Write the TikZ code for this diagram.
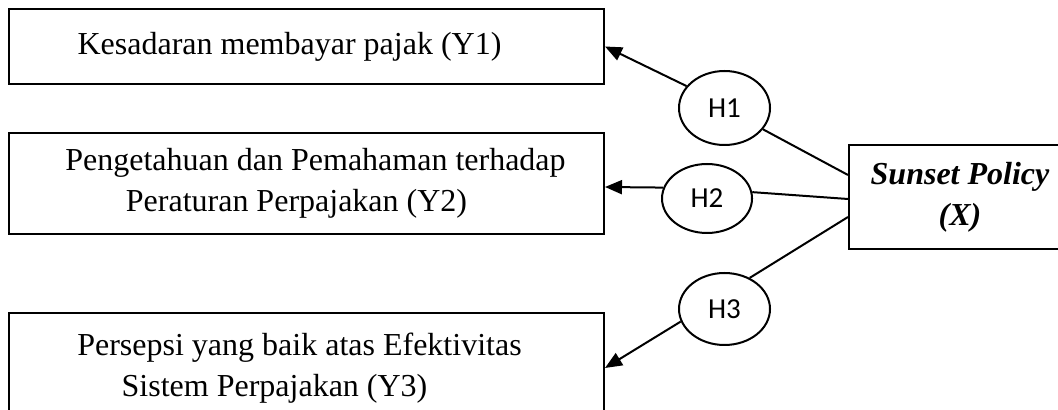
\documentclass[tikz,border=0pt]{standalone}
\usepackage{fontspec}
\setmainfont{Liberation Serif}
\newfontfamily\calibri{Carlito}
\usetikzlibrary{shapes.geometric,arrows.meta}

\tikzset{
  varbox/.style={draw,line width=1pt,minimum width=297.5pt,inner sep=0pt,
    align=center,font=\fontsize{16}{20.5}\selectfont},
  hypo/.style={draw,ellipse,line width=1pt,inner sep=0pt,minimum width=45.5pt,
    font=\calibri\fontsize{14.5}{16}\selectfont},
  link/.style={line width=1pt},
  effect/.style={line width=1pt,-{Triangle[length=8.5pt,width=7pt]}}
}

\begin{document}
\begin{tikzpicture}[x=0.5pt,y=-0.5pt]
  \useasboundingbox (0,0) rectangle (1058,410);
  % variabel Y
  \node[varbox,minimum height=37.5pt] (Y1) at (306.5,46.5) {Kesadaran membayar pajak (Y1)\hspace*{17pt}};
  \node[varbox,minimum height=50.5pt] (Y2) at (306.5,183.5) {\hspace*{9pt}Pengetahuan dan Pemahaman terhadap\\Peraturan Perpajakan (Y2)\hspace*{10pt}};
  \node[varbox,minimum height=55pt] (Y3) at (306.5,368) {Persepsi yang baik atas Efektivitas\hspace*{7pt}\\Sistem Perpajakan (Y3)\hspace*{32pt}};
  % variabel X
  \node[varbox,minimum width=111pt,minimum height=52pt,
    font=\fontsize{16}{20.5}\selectfont\bfseries\itshape] (X) at (960,197) {Sunset Policy\\(X)};
  % hipotesis
  \node[hypo,minimum height=37pt] (H1) at (724.5,108) {H1};
  \node[hypo,minimum width=45pt,minimum height=34.5pt] (H2) at (707,198.5) {H2};
  \node[hypo,minimum height=36pt] (H3) at (724.5,309) {H3};

  \coordinate (x1) at ([yshift=11pt]X.west);
  \coordinate (x2) at ([yshift=-1pt]X.west);
  \coordinate (x3) at ([yshift=-10pt]X.west);
  \coordinate (y2) at ([yshift=-1.75pt]Y2.east);

  \draw[link] (x1) -- (H1.-29);
  \draw[effect] (H1.150) -- (Y1.east);
  \draw[link] (x2) -- (H2.8);
  \draw[effect] (H2.166) -- (y2);
  \draw[link] (x3) -- (H3.51);
  \draw[effect] (H3.196) -- (Y3.east);
\end{tikzpicture}
\end{document}
